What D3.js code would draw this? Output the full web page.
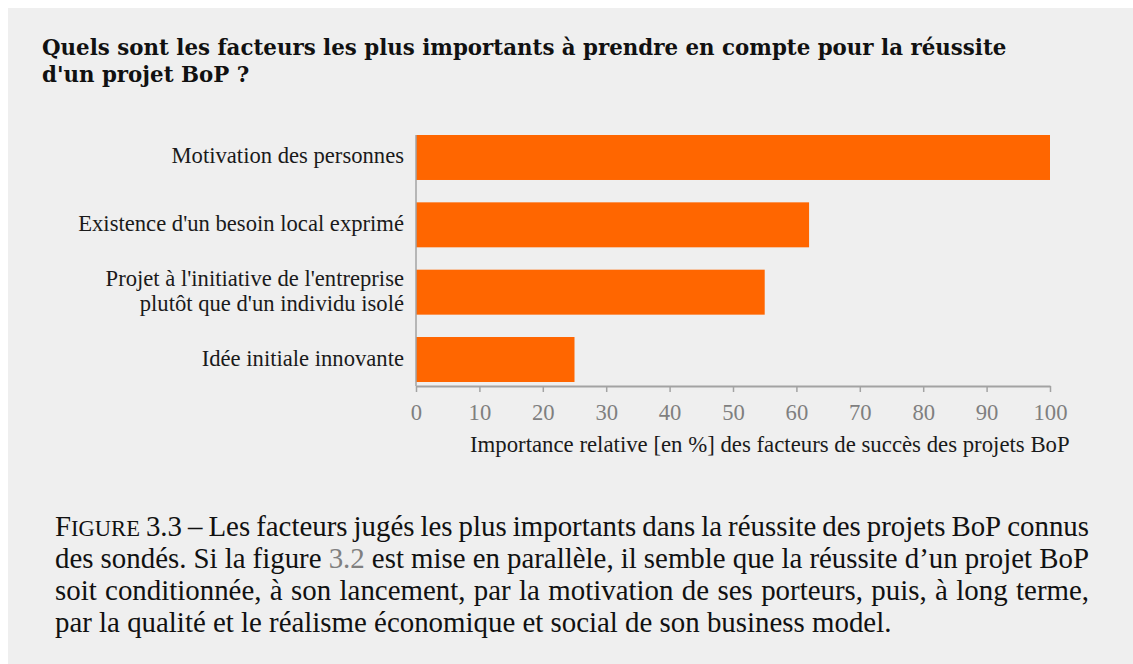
<!DOCTYPE html>
<html>
<head>
<meta charset="utf-8">
<script src="https://cdn.jsdelivr.net/npm/d3@7"></script>
<style>
  html, body { margin: 0; padding: 0; background: #ffffff; }
  svg { display: block; }
</style>
</head>
<body>
<svg id="chart" width="1133" height="664"></svg>
<script>
// ---------- data ----------
const titleLines = [
  "Quels sont les facteurs les plus importants à prendre en compte pour la réussite",
  "d'un projet BoP ?"
];
const categories = [
  "Motivation des personnes",
  "Existence d'un besoin local exprimé",
  "Projet à l'initiative de l'entreprise\nplutôt que d'un individu isolé",
  "Idée initiale innovante"
];
const values = [100, 62, 55, 25];
const xTicks = [0, 10, 20, 30, 40, 50, 60, 70, 80, 90, 100];
const xAxisTitle = "Importance relative [en %] des facteurs de succès des projets BoP";
const captionLines = [
  "FIGURE 3.3 – Les facteurs jugés les plus importants dans la réussite des projets BoP connus",
  "des sondés. Si la figure 3.2 est mise en parallèle, il semble que la réussite d’un projet BoP",
  "soit conditionnée, à son lancement, par la motivation de ses porteurs, puis, à long terme,",
  "par la qualité et le réalisme économique et social de son business model."
];

// ---------- setup ----------
const FONT = "'Liberation Serif', 'Times New Roman', serif";
const TITLE_FONT = "'DejaVu Serif', serif";
const svg = d3.select("#chart");
svg.append("rect").attr("x", 8).attr("y", 8).attr("width", 1125).attr("height", 656).attr("fill", "#efefef");

const measurer = svg.append("text").attr("visibility", "hidden").style("white-space", "pre");
function textWidth(str, size, weight, family) {
  measurer.attr("font-family", family || FONT).attr("font-size", size)
    .attr("font-weight", weight || "normal").text(str);
  return measurer.node().getComputedTextLength();
}
function fitSize(str, weight, target, family) {
  return 100 * target / textWidth(str, 100, weight, family);
}

const titleSize = fitSize(titleLines[0], "bold", 965, TITLE_FONT);
const labelSize = fitSize("Existence d'un besoin local exprimé", "normal", 326);
const axisTitleSize = fitSize(xAxisTitle, "normal", 600);
const captionSize = fitSize(captionLines[3], "normal", 837);

// ---------- title ----------
svg.append("g").selectAll("text").data(titleLines).join("text")
  .attr("x", 42).attr("y", (d, i) => 55 + i * 27)
  .attr("font-family", TITLE_FONT).attr("font-weight", "bold").attr("font-size", titleSize)
  .attr("fill", "#111").text(d => d);

// ---------- scales ----------
const x = d3.scaleLinear().domain([0, 100]).range([416, 1050]);
const y = d3.scaleBand().domain(categories).range([135, 382]).paddingInner(0.332).paddingOuter(0);

// bars
svg.append("g").selectAll("rect").data(values).join("rect")
  .attr("x", x(0))
  .attr("y", (d, i) => y(categories[i]))
  .attr("width", d => x(d) - x(0))
  .attr("height", y.bandwidth())
  .attr("fill", "#ff6600");

// left axis line
svg.append("line").attr("x1", x(0)).attr("x2", x(0)).attr("y1", 135).attr("y2", 386)
  .attr("stroke", "#a3a3a3").attr("stroke-width", 1.5);

// category labels
const labG = svg.append("g");
categories.forEach(c => {
  const lines = c.split("\n");
  const cy = y(c) + y.bandwidth() / 2 + 6;
  const lh = 25;
  lines.forEach((ln, j) => {
    labG.append("text")
      .attr("x", 404).attr("y", cy + (j - (lines.length - 1) / 2) * lh)
      .attr("text-anchor", "end").attr("font-family", FONT).attr("font-size", labelSize)
      .attr("fill", "#1a1a1a").text(ln);
  });
});

// bottom axis
const axisG = svg.append("g").attr("transform", "translate(0,386)")
  .call(d3.axisBottom(x).tickValues(xTicks).tickSize(6).tickSizeOuter(0).tickFormat(d3.format("d")));
axisG.select(".domain").attr("stroke", "#a3a3a3").attr("stroke-width", 2);
axisG.selectAll(".tick line").attr("stroke", "#a3a3a3").attr("stroke-width", 1.5);
axisG.selectAll(".tick text").attr("y", 34).attr("dy", 0)
  .attr("font-family", FONT).attr("font-size", labelSize).attr("fill", "#7f7f7f");

// axis title
svg.append("text").attr("x", 470).attr("y", 452)
  .attr("font-family", FONT).attr("font-size", axisTitleSize).attr("fill", "#1a1a1a")
  .text(xAxisTitle);

// ---------- caption (justified) ----------
const capG = svg.append("g");
const capLeft = 55, capRight = 1089, capBase = 536, capLH = 32;
const spaceW = textWidth("a a", captionSize) - textWidth("aa", captionSize);
captionLines.forEach((line, li) => {
  const words = line.split(" ");
  const widths = [];
  const nodes = words.map(w => {
    const t = capG.append("text").attr("font-family", FONT).attr("font-size", captionSize)
      .attr("fill", "#111").attr("y", capBase + li * capLH);
    if (w === "FIGURE") {
      t.append("tspan").text("F");
      t.append("tspan").attr("font-size", captionSize * 0.78).text("IGURE");
    } else if (w === "3.2") {
      t.attr("fill", "#808080").text(w);
    } else {
      t.text(w);
    }
    widths.push(t.node().getComputedTextLength());
    return t;
  });
  const total = d3.sum(widths);
  const justify = li < captionLines.length - 1;
  const gap = justify ? (capRight - capLeft - total) / (words.length - 1) : spaceW;
  let cx = capLeft;
  nodes.forEach((t, i) => { t.attr("x", cx); cx += widths[i] + gap; });
});
measurer.remove();
</script>
</body>
</html>
